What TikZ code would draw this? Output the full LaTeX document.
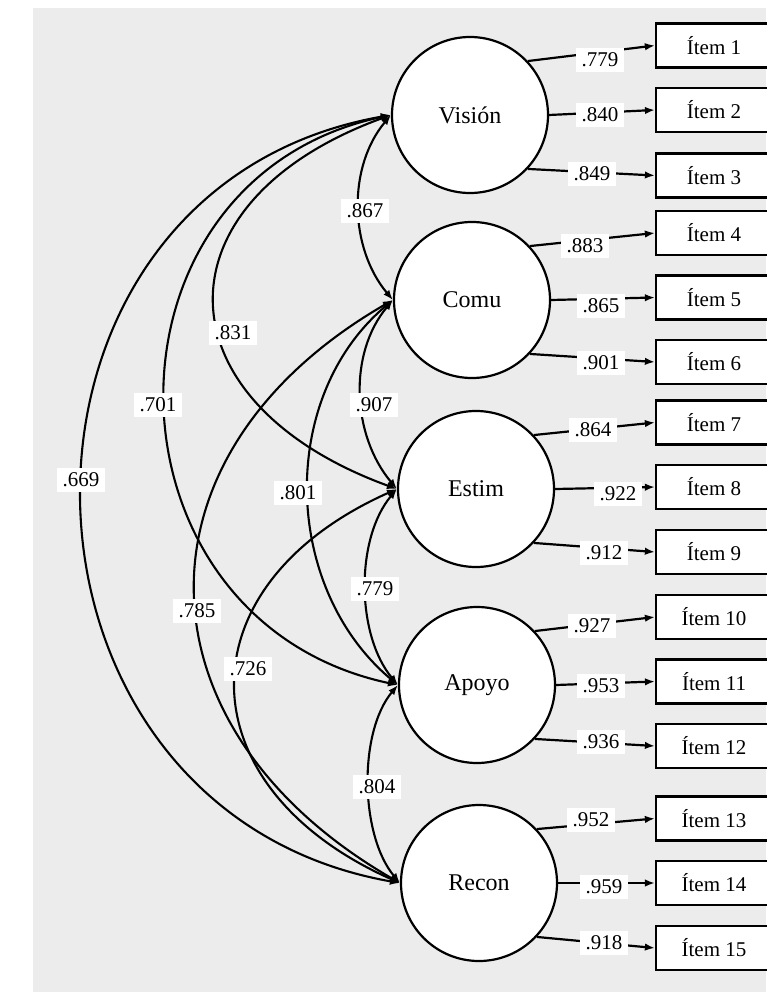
\documentclass[tikz,border=0pt]{standalone}
\usepackage{fontspec}
\setmainfont{Liberation Serif}
\usetikzlibrary{arrows.meta}
\definecolor{bgray}{RGB}{236,236,236}
\begin{document}
\begin{tikzpicture}[x=1pt,y=1pt,
  >={Latex[length=10pt,width=7.5pt]},
  lv/.style={circle,draw=black,line width=2.2pt,fill=white,minimum size=156pt,inner sep=0pt,font=\fontsize{24}{28}\selectfont},
  itembox/.style={rectangle,draw=black,line width=2.2pt,fill=white,minimum width=116pt,minimum height=44pt,inner sep=0pt,font=\fontsize{21}{25}\selectfont},
  lab/.style={fill=white,inner xsep=6pt,inner ysep=5pt,font=\fontsize{21}{25}\selectfont},
  load/.style={line width=2.2pt,->},
  cov/.style={line width=2.1pt,<->}]
\useasboundingbox (0,0) rectangle (766,-992);
\fill[white] (0,0) rectangle (766,-992);
\fill[bgray] (33,-8) rectangle (766,-992);

% latent variables
\node[lv] (V) at (470,-115) {Visión};
\node[lv] (C) at (472,-300) {Comu};
\node[lv] (E) at (476,-489) {Estim};
\node[lv] (A) at (477,-685) {Apoyo};
\node[lv] (R) at (479,-883) {Recon};

% items
\node[itembox] (I1) at (714,-45.5) {Ítem 1};
\node[itembox] (I2) at (714,-110) {Ítem 2};
\node[itembox] (I3) at (714,-175.5) {Ítem 3};
\node[itembox] (I4) at (714,-233) {Ítem 4};
\node[itembox] (I5) at (714,-297.5) {Ítem 5};
\node[itembox] (I6) at (714,-362) {Ítem 6};
\node[itembox] (I7) at (714,-422.5) {Ítem 7};
\node[itembox] (I8) at (714,-487) {Ítem 8};
\node[itembox] (I9) at (714,-552) {Ítem 9};
\node[itembox] (I10) at (714,-617) {Ítem 10};
\node[itembox] (I11) at (714,-681.5) {Ítem 11};
\node[itembox] (I12) at (714,-746) {Ítem 12};
\node[itembox] (I13) at (714,-818.5) {Ítem 13};
\node[itembox] (I14) at (714,-883) {Ítem 14};
\node[itembox] (I15) at (714,-948) {Ítem 15};

% loadings
\draw[load] (V.43) -- (I1.west);
\draw[load] (V.east) -- (I2.west);
\draw[load] (V.-43) -- (I3.west);
\draw[load] (C.43) -- (I4.west);
\draw[load] (C.east) -- (I5.west);
\draw[load] (C.-43) -- (I6.west);
\draw[load] (E.43) -- (I7.west);
\draw[load] (E.east) -- (I8.west);
\draw[load] (E.-43) -- (I9.west);
\draw[load] (A.43) -- (I10.west);
\draw[load] (A.east) -- (I11.west);
\draw[load] (A.-43) -- (I12.west);
\draw[load] (R.43) -- (I13.west);
\draw[load] (R.east) -- (I14.west);
\draw[load] (R.-43) -- (I15.west);

\node[lab] (l1) at (600,-60) {.779};
\node[lab] (l2) at (600,-115) {.840};
\node[lab] (l3) at (592,-174) {.849};
\node[lab] (l4) at (585,-246) {.883};
\node[lab] (l5) at (601,-306) {.865};
\node[lab] (l6) at (601,-363) {.901};
\node[lab] (l7) at (593,-430) {.864};
\node[lab] (l8) at (618,-494) {.922};
\node[lab] (l9) at (604,-553) {.912};
\node[lab] (l10) at (592,-626) {.927};
\node[lab] (l11) at (601,-686) {.953};
\node[lab] (l12) at (601,-742) {.936};
\node[lab] (l13) at (591,-820) {.952};
\node[lab] (l14) at (604,-887) {.959};
\node[lab] (l15) at (604,-943) {.918};

% covariances
\draw[cov] (V.west) .. controls +(230:68) and +(130:68) .. (C.west);
\draw[cov] (C.west) .. controls +(230:70) and +(130:70) .. (E.west);
\draw[cov] (E.west) .. controls +(230:65) and +(130:65) .. (A.west);
\draw[cov] (A.west) .. controls +(230:62) and +(130:62) .. (R.west);
\draw[cov] (V.west) .. controls +(200:254) and +(160:254) .. (E.west);
\draw[cov] (C.west) .. controls +(220:151) and +(140:151) .. (A.west);
\draw[cov] (E.west) .. controls +(204:237) and +(156:237) .. (R.west);
\draw[cov] (V.west) .. controls +(192:312) and +(168:312) .. (A.west);
\draw[cov] (C.west) .. controls +(210:309) and +(150:309) .. (R.west);
\draw[cov] (V.west) .. controls +(190:424) and +(170:424) .. (R.west);

\node[lab] (c1) at (365,-211) {.867};
\node[lab] (c2) at (374,-405) {.907};
\node[lab] (c3) at (375,-589) {.779};
\node[lab] (c4) at (377,-787) {.804};
\node[lab] (c5) at (233,-333) {.831};
\node[lab] (c6) at (298,-493) {.801};
\node[lab] (c7) at (248,-669) {.726};
\node[lab] (c8) at (158,-405) {.701};
\node[lab] (c9) at (197,-611) {.785};
\node[lab] (c10) at (81,-480) {.669};
\end{tikzpicture}
\end{document}
